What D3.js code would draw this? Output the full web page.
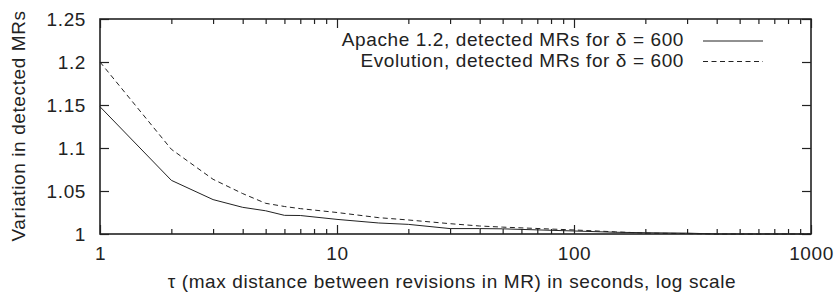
<!DOCTYPE html>
<html>
<head>
    <meta charset="utf-8">
    <title>Variation in detected MRs</title>
    <style>
        body { margin: 0; background: #ffffff; }
        #chart text {
            font-family: "Liberation Sans", Arial, Helvetica, sans-serif;
            font-size: 19px;
            letter-spacing: 0.6px;
            fill: #222;
        }
    </style>
    <script src="https://d3js.org/d3.v7.min.js"></script>
</head>
<body>
    <div id="chart"></div>

    <script>
        // tau values (seconds)
        var tau = [1, 2, 3, 4, 5, 6, 7, 10, 15, 20, 30, 40, 50, 100, 150, 200, 300, 400, 1000];

        // Apache 1.2, solid line
        var apache = [1.148, 1.0624, 1.040, 1.031, 1.027, 1.0217, 1.0215, 1.017, 1.0128, 1.0112, 1.0063, 1.0063, 1.006, 1.0035, 1.002, 1.0015, 1.001, 1.0, 1.0];

        // Evolution, dashed line
        var evolution = [1.2, 1.0985, 1.0636, 1.047, 1.0357, 1.032, 1.0295, 1.025, 1.019, 1.0163, 1.012, 1.0093, 1.008, 1.0047, 1.0025, 1.001, 1.0005, 1.0, 1.0];

        var seriesNames = ["Apache 1.2, detected MRs for \u03b4 = 600", "Evolution, detected MRs for \u03b4 = 600"];

        var xMajor = [1, 10, 100, 1000];
        var xMajorLabels = ["1", "10", "100", "1000"];
        var yTicks = [1, 1.05, 1.1, 1.15, 1.2, 1.25];
        var yTickLabels = ["1", "1.05", "1.1", "1.15", "1.2", "1.25"];

        var xTitle = "\u03c4 (max distance between revisions in MR) in seconds, log scale";
        var yTitle = "Variation in detected MRs";

        var W = 840, H = 295;
        var margin = { left: 100, right: 811, top: 19, bottom: 234 };

        var svg = d3.select("#chart").append("svg")
            .attr("width", W)
            .attr("height", H);

        var x = d3.scaleLog().domain([1, 1000]).range([margin.left, margin.right]);
        var y = d3.scaleLinear().domain([1, 1.25]).range([margin.bottom, margin.top]);

        // minor ticks 2..9 of each decade
        var xMinor = [];
        [1, 10, 100].forEach(function(d) {
            for (var k = 2; k <= 9; k++) xMinor.push(d * k);
        });

        // bottom axis
        svg.append("g")
            .attr("transform", "translate(0," + margin.bottom + ")")
            .call(d3.axisBottom(x).tickValues(xMajor).tickSize(-9).tickPadding(13)
                .tickFormat(function(d, i) { return xMajorLabels[i]; }));
        svg.append("g")
            .attr("transform", "translate(0," + margin.bottom + ")")
            .call(d3.axisBottom(x).tickValues(xMinor).tickSize(-5).tickFormat(""));

        // top axis (mirror)
        svg.append("g")
            .attr("transform", "translate(0," + margin.top + ")")
            .call(d3.axisTop(x).tickValues(xMajor).tickSize(-9).tickFormat(""));
        svg.append("g")
            .attr("transform", "translate(0," + margin.top + ")")
            .call(d3.axisTop(x).tickValues(xMinor).tickSize(-5).tickFormat(""));

        // left axis
        svg.append("g")
            .attr("transform", "translate(" + margin.left + ",0)")
            .call(d3.axisLeft(y).tickValues(yTicks).tickSize(-9).tickPadding(14)
                .tickFormat(function(d, i) { return yTickLabels[i]; }));

        // right axis (mirror)
        svg.append("g")
            .attr("transform", "translate(" + margin.right + ",0)")
            .call(d3.axisRight(y).tickValues(yTicks).tickSize(-9).tickFormat(""));

        svg.selectAll(".domain").remove();
        svg.selectAll(".tick line").attr("stroke", "#222").attr("stroke-width", 1.2);
        svg.selectAll(".tick text").attr("fill", "#222");

        // frame
        svg.append("rect")
            .attr("x", margin.left)
            .attr("y", margin.top)
            .attr("width", margin.right - margin.left)
            .attr("height", margin.bottom - margin.top)
            .attr("fill", "none")
            .attr("stroke", "#222")
            .attr("stroke-width", 1.6);

        var line = d3.line()
            .x(function(d) { return x(d[0]); })
            .y(function(d) { return y(d[1]); });

        svg.append("path")
            .datum(d3.zip(tau, apache))
            .attr("d", line)
            .attr("fill", "none")
            .attr("stroke", "#222")
            .attr("stroke-width", 1);

        svg.append("path")
            .datum(d3.zip(tau, evolution))
            .attr("d", line)
            .attr("fill", "none")
            .attr("stroke", "#222")
            .attr("stroke-width", 1)
            .attr("stroke-dasharray", "5,3.5");

        // legend
        var legend = svg.append("g");
        seriesNames.forEach(function(name, i) {
            legend.append("text")
                .attr("x", 684)
                .attr("y", 46 + i * 20.5)
                .attr("text-anchor", "end")
                .text(name);
            legend.append("line")
                .attr("x1", 703)
                .attr("x2", 763)
                .attr("y1", 41 + i * 20.5)
                .attr("y2", 41 + i * 20.5)
                .attr("stroke", "#222")
                .attr("stroke-width", 1)
                .attr("stroke-dasharray", i == 1 ? "5,3.5" : null);
        });

        // axis titles
        svg.append("text")
            .attr("x", 452)
            .attr("y", 288)
            .attr("text-anchor", "middle")
            .text(xTitle);

        svg.append("text")
            .attr("transform", "rotate(-90)")
            .attr("x", -126)
            .attr("y", 25)
            .attr("text-anchor", "middle")
            .text(yTitle);
    </script>
</body>
</html>
